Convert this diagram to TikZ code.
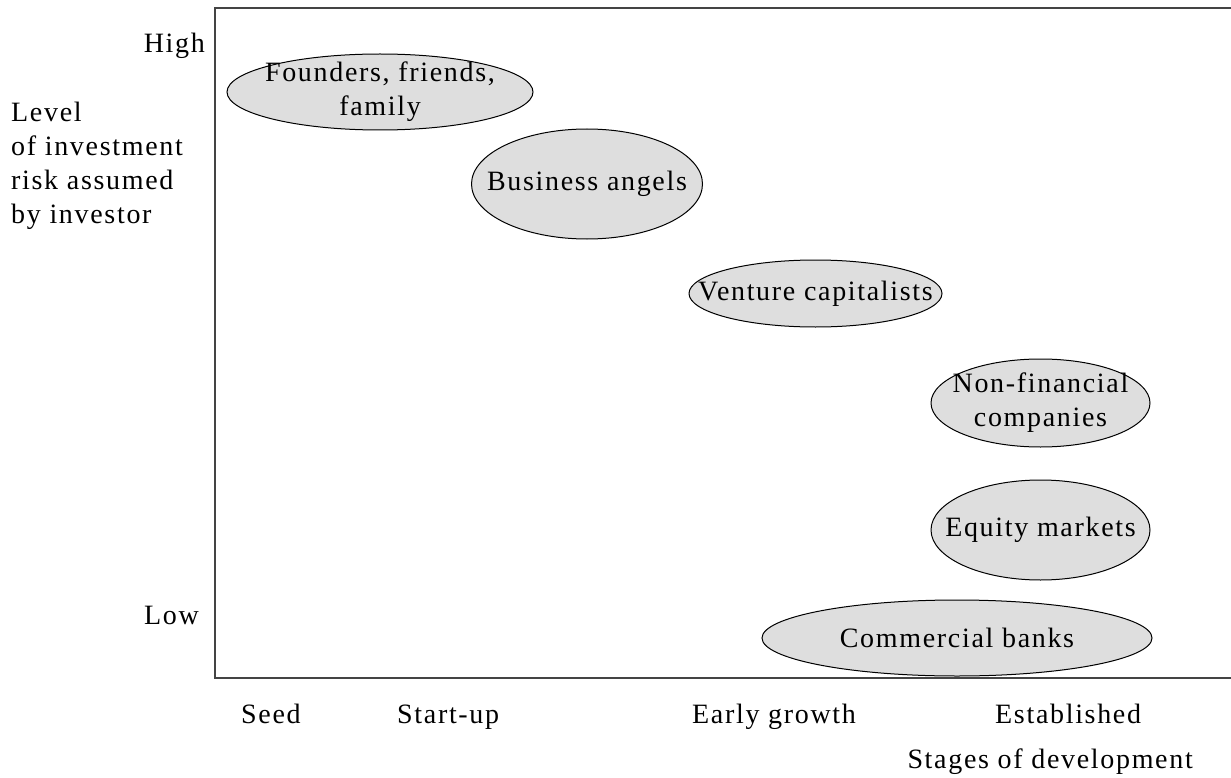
\documentclass[tikz,border=0pt]{standalone}
\usepackage{fontspec}
\setmainfont{Liberation Serif}[LetterSpace=6]
\usetikzlibrary{shapes.geometric}
\definecolor{fillgray}{HTML}{DEDEDE}
\definecolor{framegray}{HTML}{444444}
\begin{document}
\begin{tikzpicture}[x=1pt,y=-1pt,
  every node/.style={font=\fontsize{28}{34}\selectfont, inner sep=0pt},
  blob/.style={ellipse, draw=black, line width=1pt, fill=fillgray, align=center,
    inner xsep=-300pt, inner ysep=-150pt}]
\useasboundingbox (0,0) rectangle (1231,778);
% frame
\coordinate (tr) at (1231,8.5);
\coordinate (tl) at (215,8.5);
\coordinate (bl) at (215,678);
\coordinate (br) at (1231,678);
\draw[framegray, line width=2pt] (tr) -- (tl) -- (bl) -- (br);
% axis labels
\node[anchor=base east] (high) at (205,53) {High};
\node[anchor=base east] (low) at (199,624) {Low};
\node[anchor=north west, align=left] (ylab) at (11,102) {Level\\of investment\\risk assumed\\by investor};
\node[anchor=base west] (seed) at (241,723) {Seed};
\node[anchor=base west] (startup) at (397,723) {Start-up};
\node[anchor=base west] (early) at (692,723) {Early growth};
\node[anchor=base west] (estab) at (995,723) {Established};
\node[anchor=base east] (xlab) at (1193,768) {Stages of development};
% ellipses
\node[blob, minimum width=306, minimum height=76] (ff) at (380,92) {Founders, friends,\\family};
\node[blob, minimum width=231, minimum height=110] (ba) at (587,184) {Business angels};
\node[blob, minimum width=253, minimum height=67] (vc) at (815.5,293.5) {Venture capitalists};
\node[blob, minimum width=219, minimum height=88] (nf) at (1040.5,403) {Non-financial\\companies};
\node[blob, minimum width=219, minimum height=100] (em) at (1040.5,530) {Equity markets};
\node[blob, minimum width=390, minimum height=76] (cb) at (957,638) {Commercial banks};
\end{tikzpicture}
\end{document}
